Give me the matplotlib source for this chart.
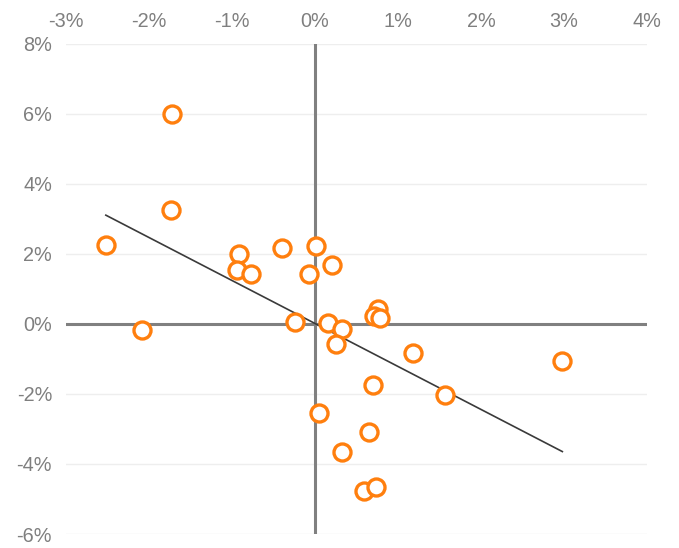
import numpy as np
import matplotlib.pyplot as plt
from matplotlib.ticker import FuncFormatter

# data (percent)
x_vals = [-1.72, -1.73, -2.52, -2.09, -0.92, -0.94, -0.77, -0.40, 0.01, -0.07,
          0.21, -0.24, 0.16, 0.32, 0.25, 0.76, 0.71, 0.78, 1.18, 0.70,
          0.05, 0.65, 0.33, 0.59, 0.74, 1.57, 2.98]
y_vals = [6.00, 3.24, 2.24, -0.19, 1.98, 1.53, 1.43, 2.17, 2.23, 1.43,
          1.69, 0.05, 0.03, -0.14, -0.58, 0.41, 0.23, 0.16, -0.82, -1.74,
          -2.54, -3.09, -3.66, -4.77, -4.67, -2.04, -1.07]

x_ticks = [-3, -2, -1, 0, 1, 2, 3, 4]
y_ticks = [-6, -4, -2, 0, 2, 4, 6, 8]

plt.rcParams['font.family'] = ['Liberation Sans', 'DejaVu Sans']
fig = plt.figure(figsize=(6.79, 5.48), dpi=100)
ax = fig.add_axes([66 / 679, 1 - 534 / 548, (647 - 66) / 679, (534 - 43.5) / 548])

x = np.array(x_vals)
y = np.array(y_vals)

ax.axhline(0, color='#808080', lw=2.2, zorder=2)
ax.axvline(0, color='#808080', lw=2.2, zorder=2)

# linear trend line across the data range
slope, icpt = np.polyfit(x, y, 1)
xs = np.array([x.min(), x.max()])
ax.plot(xs, slope * xs + icpt, color='#3a3a3a', lw=1.2, zorder=3)

ax.scatter(x, y, s=150, facecolors='white', edgecolors='#ff7f0e',
           linewidths=2.4, zorder=4)

ax.set_xlim(-3, 4)
ax.set_ylim(-6, 8)
ax.set_xticks(x_ticks)
ax.set_yticks(y_ticks)
pct = FuncFormatter(lambda v, _: f'{v:.0f}%')
ax.xaxis.set_major_formatter(pct)
ax.yaxis.set_major_formatter(pct)
ax.xaxis.tick_top()
ax.tick_params(length=0, labelsize=14.3, labelcolor='#7f7f7f')
ax.tick_params(axis='x', pad=9)
ax.tick_params(axis='y', pad=10)
ax.grid(axis='y', color='#eeeeee', lw=1)
ax.set_axisbelow(True)
for s in ax.spines.values():
    s.set_visible(False)

fig.savefig('out.png', dpi=100)
